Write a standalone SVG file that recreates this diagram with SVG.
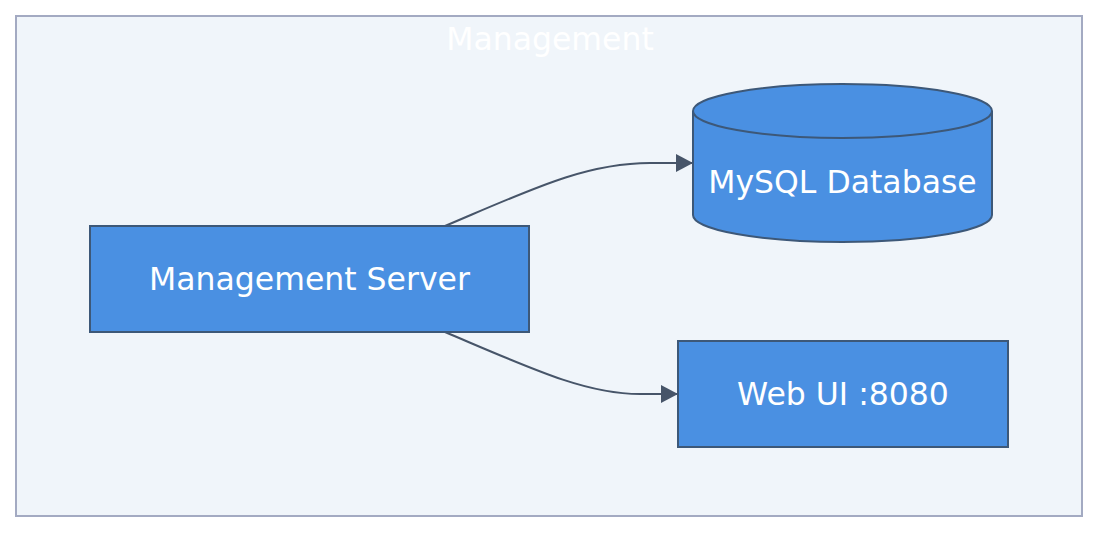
<svg xmlns="http://www.w3.org/2000/svg" width="1114" height="542" viewBox="0 0 1114 542">
<style>
.node{fill:#4a90e2;stroke:#3d5878;stroke-width:2}
.lbl{font-family:"DejaVu Sans",sans-serif;font-size:31.5px;fill:#ffffff;text-anchor:middle;dominant-baseline:central}
.edge{fill:none;stroke:#475569;stroke-width:2}
</style>
<defs>
<marker id="arr" markerWidth="17" markerHeight="18" refX="16" refY="9" orient="auto" markerUnits="userSpaceOnUse" viewBox="0 0 17 18">
<path d="M0,0 L17,9 L0,18 z" fill="#475569"/>
</marker>
</defs>
<rect width="1114" height="542" fill="#ffffff"/>
<g id="cluster-management">
<rect x="16" y="16" width="1066" height="500" fill="#f0f5fa" stroke="#a3aac2" stroke-width="2"/>
<text class="lbl" x="550" y="39">Management</text>
</g>
<g id="connectors">
<path class="edge" d="M445,226 C530,190 585,163 650,163 L692,163" marker-end="url(#arr)"/>
<path class="edge" d="M445,332 C530,368 585,394 640,394 L677,394" marker-end="url(#arr)"/>
</g>
<g id="node-server">
<rect class="node" x="90" y="226" width="439" height="106"/>
<text class="lbl" x="309.5" y="279">Management Server</text>
</g>
<g id="node-mysql">
<path class="node" d="M693,111 L693,215 A149.5,27 0 0 0 992,215 L992,111"/>
<ellipse class="node" cx="842.5" cy="111" rx="149.5" ry="27"/>
<text class="lbl" x="842.5" y="182">MySQL Database</text>
</g>
<g id="node-webui">
<rect class="node" x="678" y="341" width="330" height="106"/>
<text class="lbl" x="843" y="394">Web UI :8080</text>
</g>
</svg>
